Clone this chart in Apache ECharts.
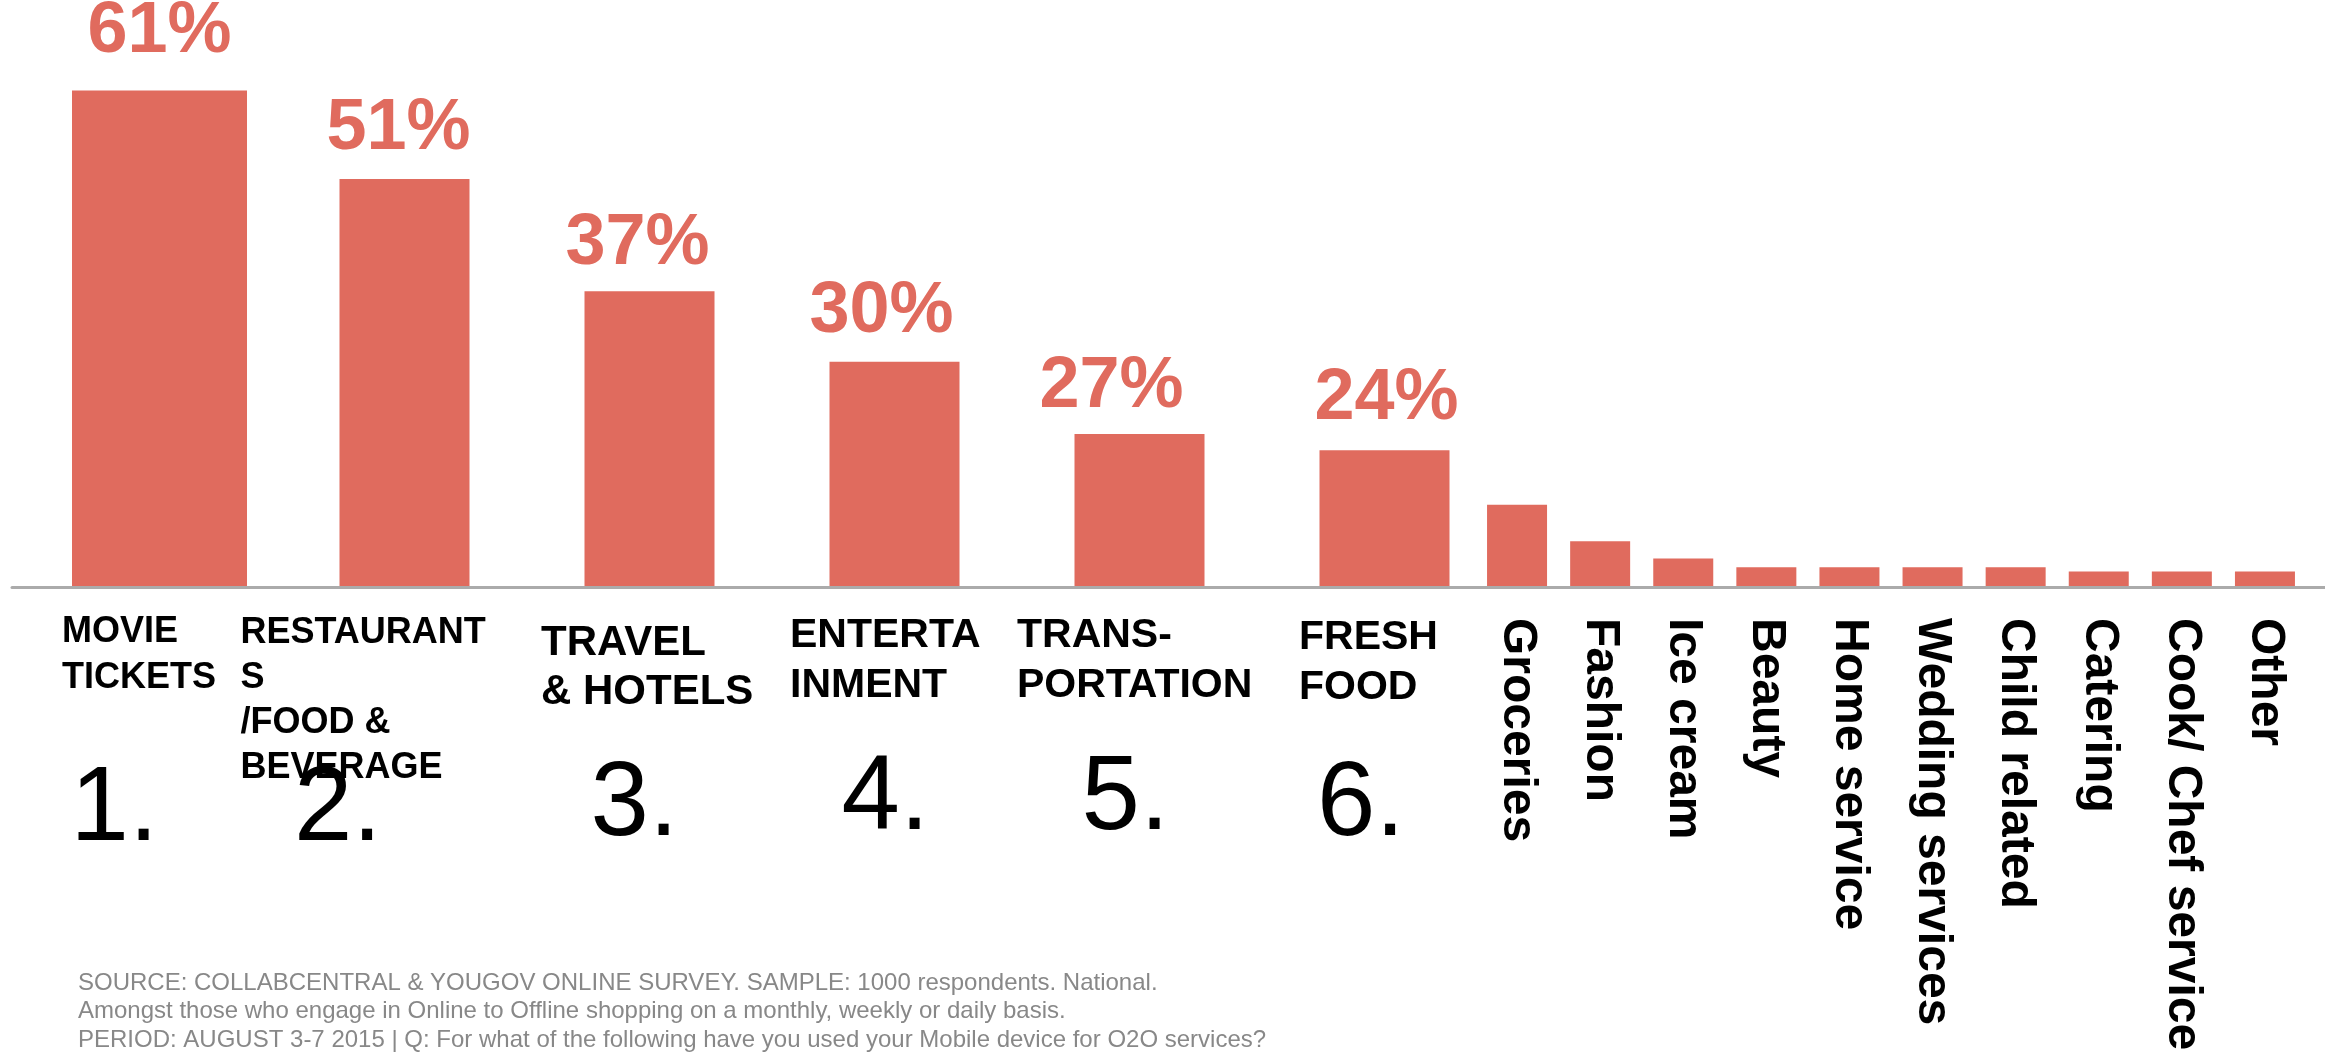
<!DOCTYPE html>
<html><head><meta charset="utf-8">
<script src="https://cdn.jsdelivr.net/npm/echarts@6/dist/echarts.min.js"></script>
<style>html,body{margin:0;padding:0;background:#fff}#c{width:2325px;height:1056px}</style>
</head><body><div id="c"></div>
<script>
// ---- data ----
const topCategories = ['MOVIE\nTICKETS', 'RESTAURANT\nS\n/FOOD &\nBEVERAGE', 'TRAVEL\n& HOTELS', 'ENTERTA\nINMENT', 'TRANS-\nPORTATION', 'FRESH\nFOOD'];
const topRanks = ['1.', '2.', '3.', '4.', '5.', '6.'];
const topValues = [61, 50.1, 36.3, 27.6, 18.7, 16.7];          // bar heights as drawn
const topValueLabels = ['61%', '51%', '37%', '30%', '27%', '24%'];
const otherCategories = ['Groceries', 'Fashion', 'Ice cream', 'Beauty', 'Home service', 'Wedding services', 'Child related', 'Catering', 'Cook/ Chef service', 'Other'];
const otherValues = [10.0, 5.5, 3.4, 2.3, 2.3, 2.3, 2.3, 1.8, 1.8, 1.8];
const footnote = [
  'SOURCE: COLLABCENTRAL & YOUGOV ONLINE SURVEY. SAMPLE: 1000 respondents. National.',
  'Amongst those who engage in Online to Offline shopping on a monthly, weekly or daily basis.',
  'PERIOD: AUGUST 3-7 2015 | Q: For what of the following have you used your Mobile device for O2O services?'
];

// ---- layout / style (not data) ----
const FONT = '"Liberation Sans", Arial, Helvetica, sans-serif';
const RED = '#E06B5E';
const valueLabelLayout = [[0, 22], [-6, 14], [-12, 11], [-13, 14], [-28, 11], [2, 15]];
const catLabelLayout = [
  {fs: 36, lh: 46, dx: -97.5, dy: 23.5},
  {fs: 36, lh: 45.3, dx: -164, dy: 24},
  {fs: 42, lh: 49, dx: -108.5, dy: 33},
  {fs: 41, lh: 50, dx: -104.5, dy: 25},
  {fs: 41, lh: 50, dx: -122.5, dy: 25},
  {fs: 41, lh: 50, dx: -85.5, dy: 26.5}
];
const rankLayout = [[-89, 173], [-110.5, 173], [-59, 168], [-53, 162], [-58, 162], [-67.5, 168]];

const YMAX = 61;
const chart = echarts.init(document.getElementById('c'), null, {renderer: 'canvas'});

const labelFor = (i) => ({
  show: true, position: 'top',
  distance: valueLabelLayout[i][1], offset: [valueLabelLayout[i][0], 0],
  formatter: () => topValueLabels[i],
  fontSize: 72, fontWeight: 'bold', fontFamily: FONT, color: RED
});

const firstBarData = topValues.map((v, i) => i === 0 ? {value: v, label: labelFor(i)} : '-');
const restBarData = topValues.map((v, i) => i === 0 ? '-' : {value: v, label: labelFor(i)});

chart.setOption({
  backgroundColor: '#fff',
  animation: false,
  title: {
    text: footnote.join('\n'), left: 78, top: 969, padding: 0,
    textStyle: {fontSize: 24, fontWeight: 'normal', color: '#888', lineHeight: 28.5, fontFamily: FONT}
  },
  grid: [
    {left: 37, width: 1470, top: 90.5, bottom: 470},
    {left: 1475.5, width: 831, top: 90.5, bottom: 470},
    {left: 12, right: 0, top: 90.5, bottom: 469}
  ],
  xAxis: [
    {type: 'category', gridIndex: 0, data: topCategories, axisLine: {show: false}, axisTick: {show: false}, axisLabel: {show: false}},
    {type: 'category', gridIndex: 0, data: topCategories, show: false},
    {type: 'category', gridIndex: 1, data: otherCategories, axisLine: {show: false}, axisTick: {show: false},
      axisLabel: {interval: 0, rotate: -90, margin: 32, fontSize: 48, fontWeight: 'bold', fontFamily: FONT, color: '#000'}},
    {type: 'value', gridIndex: 2, min: 0, max: 1, axisLine: {show: true, lineStyle: {color: '#ababab', width: 3}},
      axisTick: {show: false}, axisLabel: {show: false}, splitLine: {show: false}}
  ],
  yAxis: [
    {type: 'value', gridIndex: 0, min: 0, max: YMAX, show: false},
    {type: 'value', gridIndex: 1, min: 0, max: YMAX, show: false},
    {type: 'value', gridIndex: 2, min: 0, max: 1, show: false}
  ],
  series: [
    {type: 'bar', name: 'top1', xAxisIndex: 1, yAxisIndex: 0, barWidth: 175, data: firstBarData, itemStyle: {color: RED}},
    {type: 'bar', name: 'top', xAxisIndex: 0, yAxisIndex: 0, barWidth: 130, data: restBarData, itemStyle: {color: RED}},
    {type: 'bar', name: 'other', xAxisIndex: 2, yAxisIndex: 1, barWidth: 60, data: otherValues, itemStyle: {color: RED}},
    {
      type: 'custom', name: 'catLabels', xAxisIndex: 0, yAxisIndex: 0, clip: false, silent: true,
      data: topCategories.map((c, i) => [i, 0]),
      encode: {x: 0, y: 1},
      renderItem: (params, api) => {
        const i = params.dataIndex;
        const p = api.coord([i, 0]);
        const L = catLabelLayout[i];
        const R = rankLayout[i];
        return {
          type: 'group',
          children: [
            {type: 'text', x: p[0] + L.dx, y: p[1] + L.dy,
              style: {text: topCategories[i], fontSize: L.fs, fontWeight: 'bold', fontFamily: FONT, fill: '#000',
                lineHeight: L.lh, align: 'left', verticalAlign: 'top'}},
            {type: 'text', x: p[0] + R[0], y: p[1] + R[1],
              style: {text: topRanks[i], fontSize: 105, fontWeight: 'normal', fontFamily: FONT, fill: '#000',
                lineHeight: 105, align: 'left', verticalAlign: 'top'}}
          ]
        };
      }
    }
  ]
});
</script></body></html>
